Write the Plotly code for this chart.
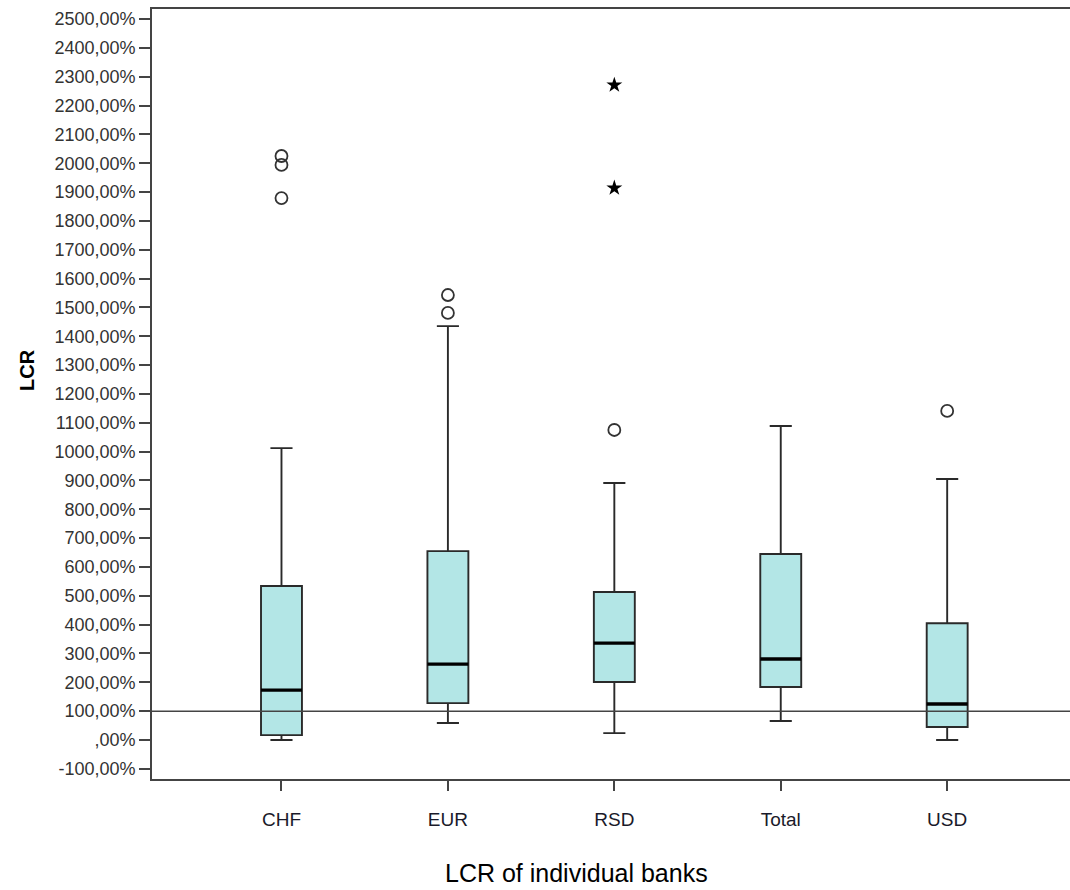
import plotly.graph_objects as go

categories = ["CHF", "EUR", "RSD", "Total", "USD"]
q1 = [17, 128, 201, 184, 45]
median = [173, 263, 336, 281, 125]
q3 = [534, 655, 513, 645, 405]
lower_whisker = [0, 59, 24, 66, 0]
upper_whisker = [1012, 1435, 891, 1089, 905]

# outliers (circles) and extreme values (stars)
outlier_cat = [0, 0, 0, 1, 1, 2, 4]
outlier_val = [2025, 1994, 1879, 1543, 1481, 1075, 1141]
extreme_cat = [2, 2]
extreme_val = [2271, 1914]

reference_value = 100

ytick_vals = [-100, 0, 100, 200, 300, 400, 500, 600, 700, 800, 900, 1000, 1100, 1200,
              1300, 1400, 1500, 1600, 1700, 1800, 1900, 2000, 2100, 2200, 2300, 2400, 2500]
ytick_text = ["-100,00%", ",00%", "100,00%", "200,00%", "300,00%", "400,00%", "500,00%",
              "600,00%", "700,00%", "800,00%", "900,00%", "1000,00%", "1100,00%", "1200,00%",
              "1300,00%", "1400,00%", "1500,00%", "1600,00%", "1700,00%", "1800,00%",
              "1900,00%", "2000,00%", "2100,00%", "2200,00%", "2300,00%", "2400,00%", "2500,00%"]

FONT = "Arial, Liberation Sans, sans-serif"
BOX_W = 0.246
FILL = "#b3e6e6"
LINE = "#2a2a2a"

xs = list(range(len(categories)))

fig = go.Figure()

fig.add_trace(go.Box(
    x=xs, q1=q1, median=median, q3=q3,
    lowerfence=lower_whisker, upperfence=upper_whisker,
    width=BOX_W, whiskerwidth=0.54,
    fillcolor=FILL, line=dict(color=LINE, width=1.9),
    boxpoints=False, showlegend=False, hoverinfo="skip",
))

# thick median lines
mx, my = [], []
for i, m in zip(xs, median):
    mx += [i - BOX_W / 2, i + BOX_W / 2, None]
    my += [m, m, None]
fig.add_trace(go.Scatter(x=mx, y=my, mode="lines",
                         line=dict(color="black", width=3.4),
                         showlegend=False, hoverinfo="skip"))

fig.add_trace(go.Scatter(
    x=outlier_cat, y=outlier_val, mode="markers",
    marker=dict(symbol="circle-open", size=12, color="#333333", line=dict(width=1.8)),
    showlegend=False, hoverinfo="skip"))

fig.add_trace(go.Scatter(
    x=extreme_cat, y=extreme_val, mode="markers",
    marker=dict(symbol="star", size=12, color="black"),
    showlegend=False, hoverinfo="skip"))

fig.add_hline(y=reference_value, line=dict(color="#444444", width=1.5))

fig.update_layout(
    width=1070, height=890,
    margin=dict(l=152, r=0, t=9, b=111),
    paper_bgcolor="white", plot_bgcolor="white",
    font=dict(family=FONT, color="#222222"),
    showlegend=False,
    xaxis=dict(
        range=[-0.778, 4.738],
        tickmode="array", tickvals=xs, ticktext=categories,
        tickfont=dict(size=19, color="#1a1a2a"),
        ticks="outside", ticklen=10, tickwidth=1.5, tickcolor="#444444",
        ticklabelstandoff=12,
        showline=True, linecolor="#444444", linewidth=1.6, mirror=True,
        showgrid=False, zeroline=False,
    ),
    yaxis=dict(
        range=[-135.2, 2534.7],
        tickmode="array", tickvals=ytick_vals, ticktext=ytick_text,
        tickfont=dict(size=18, color="#333333"),
        ticks="outside", ticklen=11, tickwidth=1.5, tickcolor="#444444",
        showline=True, linecolor="#444444", linewidth=1.6,
        showgrid=False, zeroline=False,
    ),
    annotations=[
        dict(text="<b>LCR</b>", xref="paper", yref="paper",
             x=(27 - 152) / 918, y=(779 - 370) / 770,
             xanchor="center", yanchor="middle", textangle=-90,
             showarrow=False, font=dict(size=20, color="black", family=FONT)),
        dict(text="LCR of individual banks", xref="paper", yref="paper",
             x=(576 - 152) / 918, y=(779 - 873) / 770,
             xanchor="center", yanchor="middle",
             showarrow=False, font=dict(size=25, color="black", family=FONT)),
    ],
)

fig.write_html("out.html")
